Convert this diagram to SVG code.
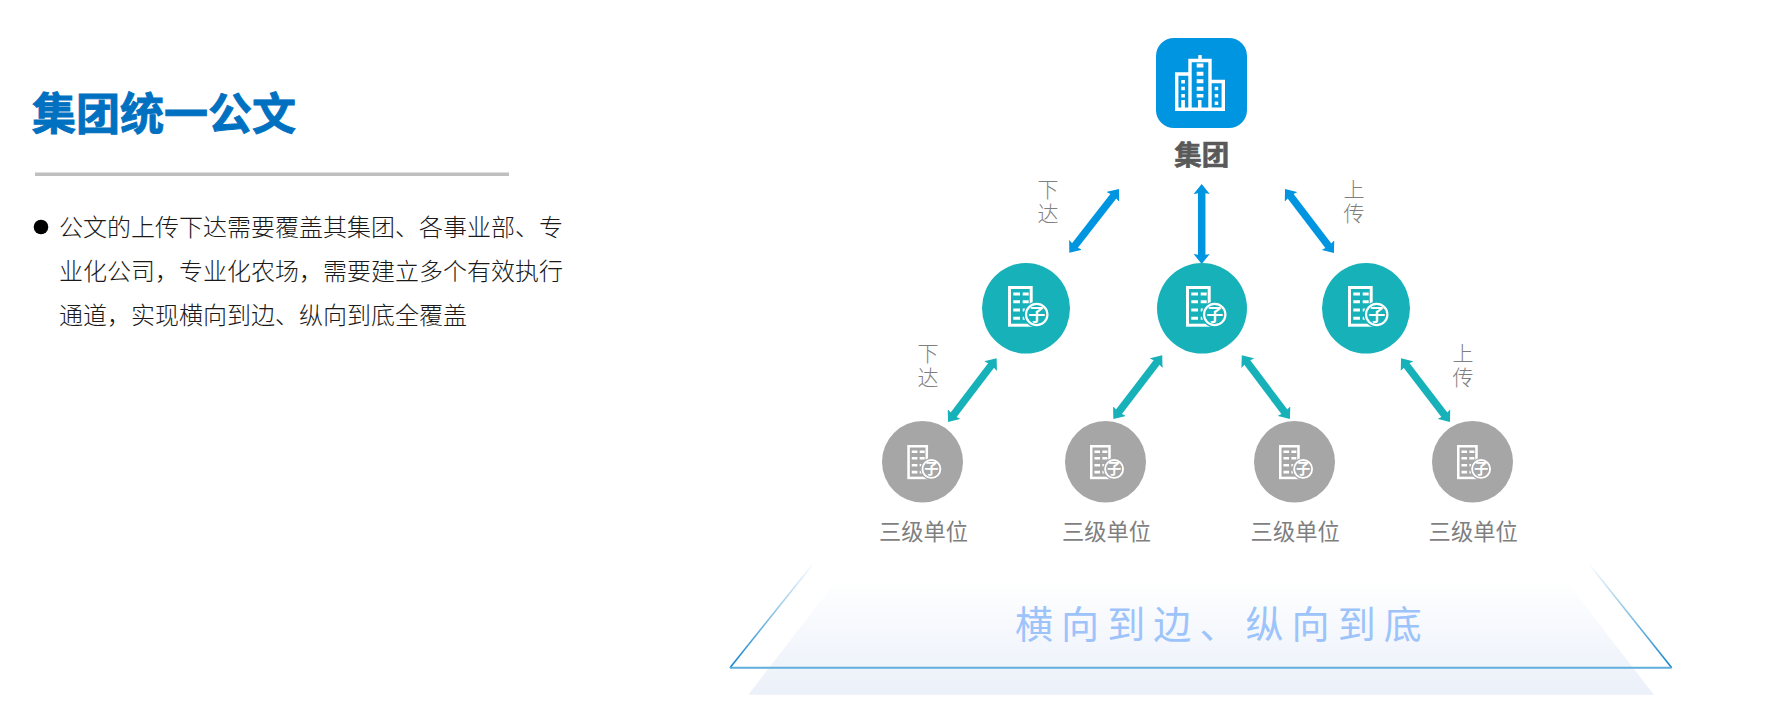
<svg xmlns="http://www.w3.org/2000/svg" xmlns:xlink="http://www.w3.org/1999/xlink" width="1780" height="719" viewBox="0 0 1780 719">
<style>
text{font-family:"Noto Sans CJK SC","Noto Sans",sans-serif}
.title{font-size:44px;font-weight:700;fill:#0070c0;stroke:#0070c0;stroke-width:.9px}
.body{font-size:24px;font-weight:300;fill:#1a1a1a}
.group-label{font-size:27.5px;font-weight:700;fill:#595959;stroke:#595959;stroke-width:.6px;text-anchor:middle}
.unit{font-size:22.3px;fill:#7f7f7f;text-anchor:middle}
.dir{font-size:21px;font-weight:300;fill:#7f7f7f;writing-mode:vertical-rl;letter-spacing:3px}
.slogan{font-size:38px;fill:#9dc3fb;letter-spacing:8.1px}
.blue{stroke:#0095e1;stroke-width:7.5;fill:none}
.teal{stroke:#17b1b9;stroke-width:7.5;fill:none}
.badge{font-size:17px;font-weight:700;fill:#fff;text-anchor:middle}
</style>
<defs>
<marker id="headBlue" markerUnits="userSpaceOnUse" viewBox="0 0 10 16" refX="3" refY="8" markerWidth="10" markerHeight="16" orient="auto-start-reverse"><path d="M10,8L0,0L1.5,8L0,16Z" fill="#0095e1"/></marker>
<marker id="headTeal" markerUnits="userSpaceOnUse" viewBox="0 0 10 16" refX="3" refY="8" markerWidth="10" markerHeight="16" orient="auto-start-reverse"><path d="M10,8L0,0L1.5,8L0,16Z" fill="#17b1b9"/></marker>
<linearGradient id="floor" x1="0" y1="0" x2="0" y2="1"><stop offset="0" stop-color="#fff"/><stop offset=".7" stop-color="#f0f4fb"/><stop offset="1" stop-color="#ecf1f9"/></linearGradient>
<linearGradient id="edgeL" gradientUnits="userSpaceOnUse" x1="730" y1="668" x2="814" y2="563"><stop offset="0" stop-color="#0f83c8"/><stop offset="1" stop-color="#0f83c8" stop-opacity="0"/></linearGradient>
<linearGradient id="edgeR" gradientUnits="userSpaceOnUse" x1="1672" y1="668" x2="1588" y2="563"><stop offset="0" stop-color="#0f83c8"/><stop offset="1" stop-color="#0f83c8" stop-opacity="0"/></linearGradient>
<symbol id="sub" overflow="visible" viewBox="0 0 45 45" width="45" height="45">
<rect x="1.5" y="1.5" width="21.7" height="37.7" fill="none" stroke="#fff" stroke-width="3"/>
<path d="M5.3,8h6.7M14.7,8h6M5.3,15.7h6.7M14.7,15.7h6M5.3,24h6.7M14.7,24h6M5.3,32.3h6.7M14.7,32.3h6" stroke="#fff" stroke-width="3" fill="none"/>
<circle cx="28.7" cy="28.5" r="13" fill="currentColor"/>
<circle cx="28.7" cy="28.5" r="10.7" fill="none" stroke="#fff" stroke-width="2.2"/>
<text class="badge" x="28.7" y="34.5">子</text>
</symbol>
</defs>
<rect width="1780" height="719" fill="#fff"/>
<g id="intro">
<text class="title" x="32" y="130">集团统一公文</text>
<rect x="35" y="172.5" width="474" height="3.5" fill="#bfbfbf"/>
<circle cx="41" cy="227" r="7.3" fill="#000"/>
<text class="body" x="59" y="236">公文的上传下达需要覆盖其集团、各事业部、专</text>
<text class="body" x="59" y="280">业化公司，专业化农场，需要建立多个有效执行</text>
<text class="body" x="59" y="324">通道，实现横向到边、纵向到底全覆盖</text>
</g>
<g id="floor-panel">
<polygon points="836.7,580 1565,580 1654,694.7 748.3,694.7" fill="url(#floor)"/>
<path d="M730,667.7L814,562.7" stroke="url(#edgeL)" stroke-width="1.6" fill="none"/>
<path d="M1671.7,667.7L1588,562.7" stroke="url(#edgeR)" stroke-width="1.6" fill="none"/>
<path d="M730,667.7H1671.7" stroke="#5faedd" stroke-width="2" fill="none"/>
<text class="slogan" x="1015" y="638">横向到边、纵向到底</text>
</g>
<g id="connectors">
<line class="blue" x1="1114.7" y1="194.5" x2="1073.6" y2="247.2" marker-start="url(#headBlue)" marker-end="url(#headBlue)"/>
<line class="blue" x1="1201.7" y1="191" x2="1201.7" y2="257" marker-start="url(#headBlue)" marker-end="url(#headBlue)"/>
<line class="blue" x1="1289.3" y1="194.5" x2="1329.7" y2="247.5" marker-start="url(#headBlue)" marker-end="url(#headBlue)"/>
<line class="teal" x1="992.4" y1="363.8" x2="952.3" y2="416.5" marker-start="url(#headTeal)" marker-end="url(#headTeal)"/>
<line class="teal" x1="1158" y1="360.8" x2="1117.6" y2="413.5" marker-start="url(#headTeal)" marker-end="url(#headTeal)"/>
<line class="teal" x1="1246" y1="360.8" x2="1285.7" y2="413.5" marker-start="url(#headTeal)" marker-end="url(#headTeal)"/>
<line class="teal" x1="1405.3" y1="363.8" x2="1445.7" y2="416.5" marker-start="url(#headTeal)" marker-end="url(#headTeal)"/>
</g>
<g id="dir-labels">
<text class="dir" x="1048" y="179">下达</text>
<text class="dir" x="1354" y="179">上传</text>
<text class="dir" x="928" y="343">下达</text>
<text class="dir" x="1463" y="343">上传</text>
</g>
<g id="node-group">
<rect x="1156" y="38" width="91" height="90" rx="18" fill="#0095e1"/>
<g fill="none" stroke="#fff" stroke-width="3.4">
<path d="M1190,110V60.5H1210V110"/>
<path d="M1190,74H1176.7V109.3H1223.3V81.5H1210"/>
</g>
<g fill="#fff">
<rect x="1198.3" y="55" width="3.4" height="5"/>
<path d="M1196.7,63.5h6.7v4h-6.7zM1196.7,71.7h6.7v4h-6.7zM1196.7,79.3h6.7v4h-6.7zM1196.7,86.7h6.7v4h-6.7zM1196.7,94h6.7v3.5h-6.7zM1198,100h3.5v9h-3.5z"/>
<path d="M1181.3,80h3.6v3.6h-3.6zM1181.3,86.7h3.6v3.6h-3.6zM1181.3,94h3.6v3.6h-3.6zM1181.3,100h3.6v9h-3.6z"/>
<path d="M1214.7,86.7h3.5v3.6h-3.5zM1214.7,94h3.5v3.6h-3.5zM1214.7,101.5h3.5v3.6h-3.5z"/>
</g>
<text class="group-label" x="1201.7" y="165">集团</text>
</g>
<g id="node-sub-1"><ellipse cx="1026" cy="308.3" rx="44" ry="45.3" fill="#17b1b9"/><use href="#sub" x="1008" y="286" color="#17b1b9"/></g>
<g id="node-sub-2"><ellipse cx="1202" cy="308.3" rx="45" ry="45.3" fill="#17b1b9"/><use href="#sub" x="1186" y="286" color="#17b1b9"/></g>
<g id="node-sub-3"><ellipse cx="1366" cy="308.3" rx="44" ry="45.3" fill="#17b1b9"/><use href="#sub" x="1348" y="286" color="#17b1b9"/></g>
<g id="node-unit-1"><ellipse cx="922.5" cy="461.8" rx="40.5" ry="40.8" fill="#a6a6a6"/><use href="#sub" transform="translate(907.3 445) scale(.84)" color="#a6a6a6"/><text class="unit" x="923.5" y="540">三级单位</text></g>
<g id="node-unit-2"><ellipse cx="1105.5" cy="461.8" rx="40.5" ry="40.8" fill="#a6a6a6"/><use href="#sub" transform="translate(1090 445) scale(.84)" color="#a6a6a6"/><text class="unit" x="1106.5" y="540">三级单位</text></g>
<g id="node-unit-3"><ellipse cx="1294.5" cy="461.8" rx="40.5" ry="40.8" fill="#a6a6a6"/><use href="#sub" transform="translate(1279 445) scale(.84)" color="#a6a6a6"/><text class="unit" x="1295.2" y="540">三级单位</text></g>
<g id="node-unit-4"><ellipse cx="1472.5" cy="461.8" rx="40.5" ry="40.8" fill="#a6a6a6"/><use href="#sub" transform="translate(1457 445) scale(.84)" color="#a6a6a6"/><text class="unit" x="1473.2" y="540">三级单位</text></g>
</svg>
